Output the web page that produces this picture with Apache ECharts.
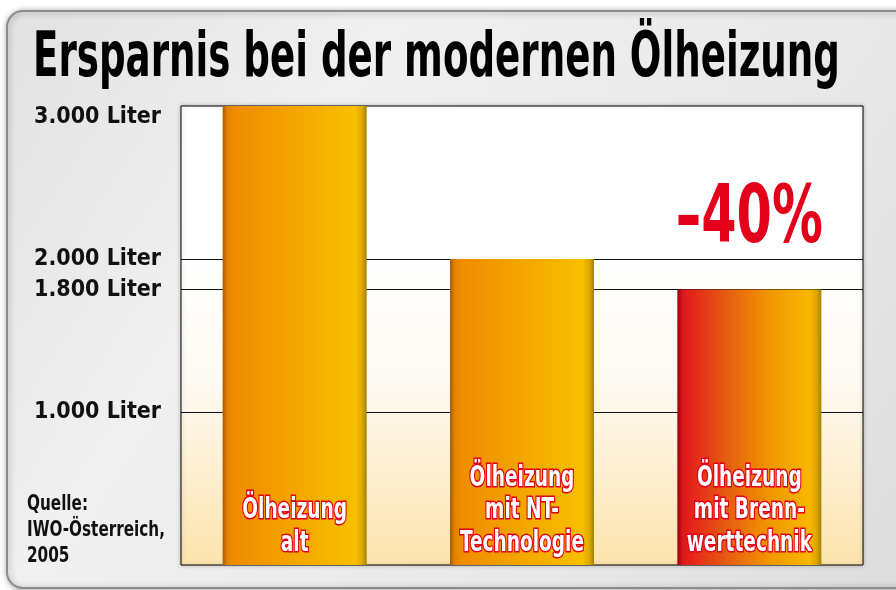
<!DOCTYPE html>
<html>
<head>
<meta charset="utf-8">
<script src="https://cdn.jsdelivr.net/npm/echarts@6/dist/echarts.min.js"></script>
<style>html,body{margin:0;padding:0;background:#fff;}#c{width:896px;height:590px;}</style>
</head>
<body>
<div id="c"></div>
<script>
const categories = ['Ölheizung\nalt', 'Ölheizung\nmit NT-\nTechnologie', 'Ölheizung\nmit Brenn-\nwerttechnik'];
const values = [3000, 2000, 1800];
const savingLabels = ['', '', '–40%'];
const tickValues = [1000, 1800, 2000];
const tickLabels = ['1.000 Liter', '1.800 Liter', '2.000 Liter'];
const topTickValues = [3000];
const topTickLabels = ['3.000 Liter'];
const titleText = 'Ersparnis bei der modernen Ölheizung';
const sourceText = 'Quelle:\nIWO-Österreich,\n2005';

const FONT = '"DejaVu Sans Condensed", "Liberation Sans", sans-serif';

const mctx = document.createElement('canvas').getContext('2d');
function textW(text, font) {
  mctx.font = font;
  return Math.max.apply(null, text.split('\n').map(t => mctx.measureText(t).width));
}
const titleFont = 'bold 62px ' + FONT;
const titleScale = 807 / textW(titleText, titleFont);
const srcFont = 'bold 22px ' + FONT;
const srcScale = 138 / textW('IWO-Österreich,', srcFont);
const barFont = 'bold 28px ' + FONT;
const barScale = 124 / textW('Technologie', barFont);
const pctFont = 'bold 80px ' + FONT;
const pctScale = 147 / textW('–40%', pctFont);

function grad(stops) {
  return new echarts.graphic.LinearGradient(0, 0, 1, 0, stops.map(c => ({offset: c[0], color: c[1]})));
}
const orangeBar = grad([[0, '#a85c00'], [0.035, '#e58400'], [0.08, '#f08c00'], [0.5, '#f4a600'], [0.92, '#f9bf00'], [0.965, '#e0aa00'], [1, '#a08400']]);
const redBar = grad([[0, '#9a0010'], [0.035, '#d81818'], [0.08, '#e4201a'], [0.35, '#e65e10'], [0.65, '#f29800'], [0.92, '#f8b800'], [0.965, '#e0a600'], [1, '#a08400']]);
const barColors = [orangeBar, orangeBar, redBar];

const chart = echarts.init(document.getElementById('c'), null, {renderer: 'canvas'});

const labelStyle = {fontFamily: FONT, fontWeight: 'bold', fontSize: 23, lineHeight: 23, color: '#111'};

chart.setOption({
  animation: false,
  backgroundColor: '#ffffff',
  graphic: [
    {
      type: 'rect', z: -10, silent: true,
      shape: {x: 7, y: 11, width: 905, height: 577, r: 16},
      style: {
        fill: new echarts.graphic.LinearGradient(0, 0, 1, 1, [
          {offset: 0, color: '#e2e2e2'}, {offset: 0.3, color: '#f0f0f0'},
          {offset: 0.7, color: '#e8e8e8'}, {offset: 1, color: '#dcdcdc'}]),
        stroke: '#8c8c8c', lineWidth: 2,
        shadowBlur: 6, shadowColor: 'rgba(0,0,0,0.35)', shadowOffsetX: 1, shadowOffsetY: 1
      }
    },
    {
      type: 'text', x: 33, y: 60, scaleX: titleScale, z: 10,
      style: {text: titleText, font: titleFont, fill: '#000', verticalAlign: 'middle', align: 'left'}
    },
    {
      type: 'text', x: 27, y: 491, scaleX: srcScale, z: 10,
      style: {text: sourceText, font: srcFont, fill: '#111', lineHeight: 26, verticalAlign: 'top', align: 'left'}
    }
  ],
  grid: {
    left: 181, top: 106, right: 33, bottom: 25,
    show: true,
    backgroundColor: new echarts.graphic.LinearGradient(0, 0, 0, 1, [
      {offset: 0, color: '#ffffff'}, {offset: 0.33, color: '#ffffff'},
      {offset: 0.6, color: '#fefaf2'}, {offset: 1, color: '#fde3ad'}]),
    borderColor: '#000', borderWidth: 1,
    shadowColor: 'rgba(0,0,0,0.25)', shadowBlur: 4
  },
  xAxis: {
    type: 'category', data: categories,
    axisLine: {show: false}, axisTick: {show: false}, axisLabel: {show: false}
  },
  yAxis: [
    {
      type: 'value', min: 0, max: 3000,
      axisLine: {show: false},
      axisTick: {show: false, customValues: tickValues},
      splitLine: {show: true, lineStyle: {color: '#111', width: 1}},
      axisLabel: {
        customValues: tickValues,
        formatter: v => tickLabels[tickValues.indexOf(v)] || '',
        align: 'left', margin: 147, verticalAlign: 'middle', ...labelStyle
      }
    },
    {
      type: 'value', min: 0, max: 3000, position: 'left',
      axisLine: {show: false},
      axisTick: {show: false, customValues: topTickValues},
      splitLine: {show: false},
      axisLabel: {
        customValues: topTickValues,
        formatter: v => topTickLabels[topTickValues.indexOf(v)] || '',
        align: 'left', margin: 147, verticalAlign: 'top', ...labelStyle
      }
    }
  ],
  series: [
    {
      type: 'bar',
      barWidth: 144,
      data: values.map((v, i) => ({value: v, itemStyle: {color: barColors[i]}}))
    },
    {
      type: 'custom',
      z: 5,
      data: values.map((v, i) => [i, v]),
      renderItem: function (params, api) {
        const i = api.value(0);
        const base = api.coord([i, 0]);
        const top = api.coord([i, api.value(1)]);
        const children = [{
          type: 'text', x: base[0], y: base[1] - 5.5, scaleX: barScale,
          style: {
            text: categories[params.dataIndex], font: barFont, lineHeight: 32.5,
            fill: '#ffffff', stroke: '#e2001a', lineWidth: 3,
            align: 'center', verticalAlign: 'bottom'
          }
        }];
        const s = savingLabels[params.dataIndex];
        if (s) {
          children.push({
            type: 'text', x: top[0], y: top[1] - 28.7, scaleX: pctScale,
            style: {text: s, font: pctFont, lineHeight: 80, fill: '#e2001a', align: 'center', verticalAlign: 'bottom'}
          });
        }
        return {type: 'group', children: children};
      }
    }
  ]
});
</script>
</body>
</html>
